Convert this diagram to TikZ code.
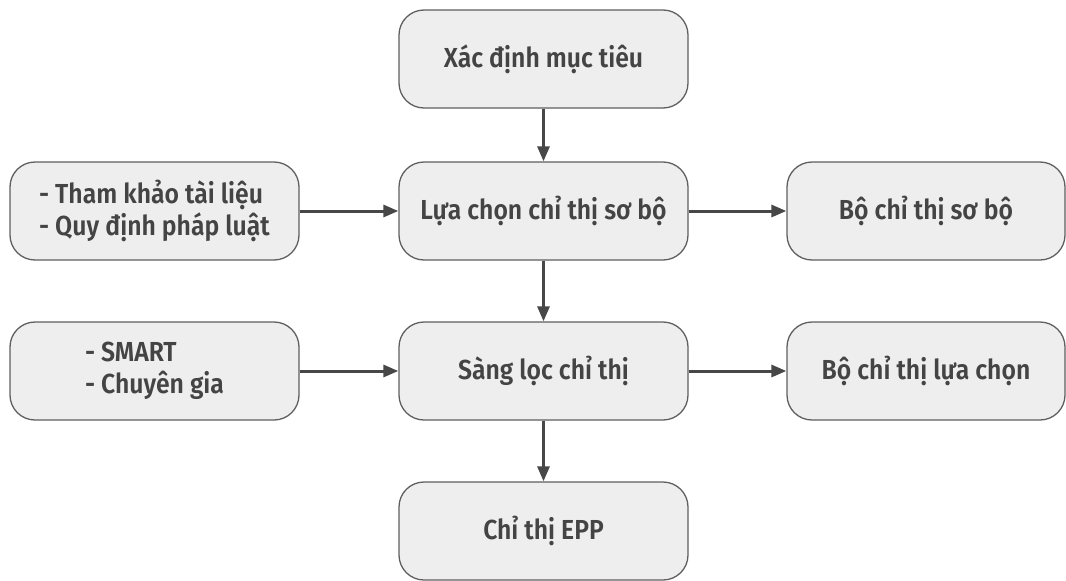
\documentclass[tikz,border=0pt]{standalone}
\usepackage{fontspec}
\setmainfont{Fira Sans}[UprightFont=* SemiBold, FakeStretch=0.9]
\usepackage{xcolor}
\usetikzlibrary{arrows.meta,positioning}
\definecolor{boxfill}{HTML}{EEEEEE}
\definecolor{boxline}{HTML}{5F5F5F}
\definecolor{inktext}{HTML}{444444}
\definecolor{arrowink}{HTML}{474747}
\tikzset{%
	block/.style    = {draw=boxline, fill=boxfill, line width=1.3pt, rectangle, rounded corners=25pt, minimum width=289pt, minimum height=98pt, text=inktext, font=\fontsize{27.5}{32}\selectfont, align=center},
	sideblock/.style = {block, minimum width=278pt}, % results
	listblock/.style = {block, align=left}, % inputs
	arrow/.style    = {line width=3pt, draw=arrowink, -{Triangle[length=15pt,width=12pt]}},
}

\begin{document}
\begin{tikzpicture}[node distance=152pt]
	\useasboundingbox (0,0) rectangle (1066pt,-581pt);
	\node [block] (xd) at (543.5pt,-59pt) {Xác định mục tiêu};
	\node [block] (lc) [below of=xd] {Lựa chọn chỉ thị sơ bộ};
	\node [block] (sl) [below of=lc,node distance=160pt] {Sàng lọc chỉ thị};
	\node [block] (epp) [below of=sl,node distance=160pt] {Chỉ thị EPP};
	\node [listblock] (tk) [left of=lc,node distance=389pt] {- Tham khảo tài liệu\\- Quy định pháp luật};
	\node [listblock] (sm) [left of=sl,node distance=389pt] {- SMART\\- Chuyên gia};
	\node [sideblock] (bsb) [right of=lc,node distance=382.5pt] {Bộ chỉ thị sơ bộ};
	\node [sideblock] (blc) [right of=sl,node distance=382.5pt] {Bộ chỉ thị lựa chọn};
	
	\draw[arrow] (xd) -- (lc);
	\draw[arrow] (lc) -- (sl);
	\draw[arrow] (sl) -- (epp);
	\draw[arrow] (tk) -- (lc);
	\draw[arrow] (sm) -- (sl);
	\draw[arrow] (lc) -- (bsb);
	\draw[arrow] (sl) -- (blc);
\end{tikzpicture}
\end{document}
